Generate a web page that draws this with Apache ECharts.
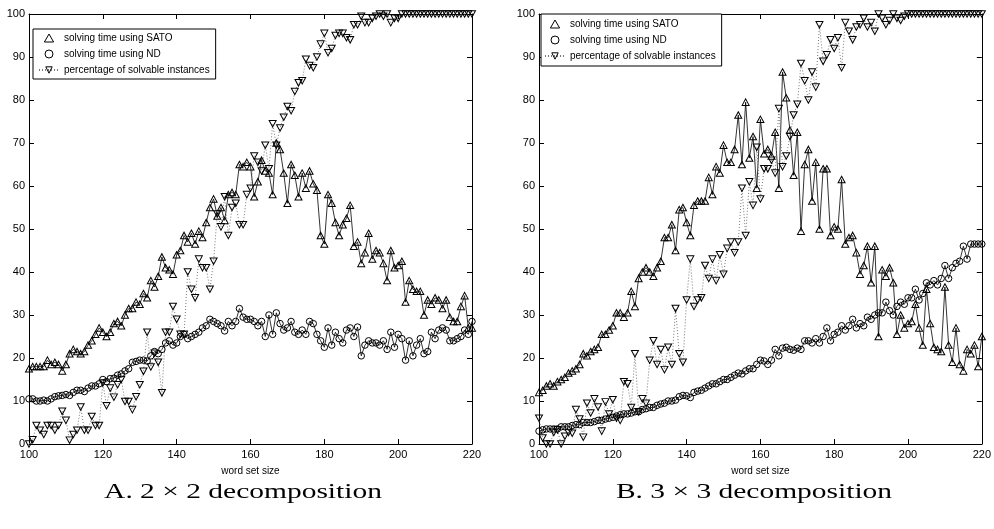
<!DOCTYPE html>
<html><head><meta charset="utf-8">
<script src="https://cdn.jsdelivr.net/npm/echarts@6/dist/echarts.min.js"></script>
<style>html,body{margin:0;padding:0;background:#fff}#c{width:994px;height:529px}</style>
</head><body><div id="c"></div>
<script>
// word set sizes (x positions)
const SIZES = [];
for (let s = 100; s <= 220; s++) SIZES.push(s);

const NAME_SATO = 'solving time using SATO';
const NAME_ND = 'solving time using ND';
const NAME_PCT = 'percentage of solvable instances';

// Panel A: 2 x 2 decomposition
const A_SATO = [
  17.5,18,18,18,18,19.5,18.5,19,18.5,17,
  18.5,21,22,21.5,21,21.5,23,24,25.5,27,
  26,25,26,28,28.5,27.5,30,31.5,31.5,33,
  32.5,35,34,38,36.5,39,43.5,41,40.5,39.5,
  44,45,48.5,47,49,46.5,49.5,48,51.5,55,
  57,53,55,52,58,58.5,58,65,64.5,65.5,
  64.5,57.5,61,66,63.5,63,58,70,68.5,63,
  56,65,62.5,57.5,63,59.5,63.5,60.5,59,48.5,
  46.5,58,56,51.5,48.5,51,52.5,55.5,46,47,
  42,44.5,49,43,45,44.5,42,38,45,41,
  41.5,42.5,33,38,36,35.5,35.5,30,33.5,32.5,
  34,33.5,31.5,33.5,29.5,28.5,28.5,32,34.5,27,
  27
];
const A_ND = [
  10.5,10.5,10,10,10.2,10,10.5,11,11.2,11.3,
  11.5,11.3,12,12.5,12.5,12.2,13,13.5,13.5,14,
  15,14.5,15.2,15.3,16,16.3,17,17.5,19,19.2,
  19.5,19.5,19.3,20.5,21.5,21,22,23.5,24,23,
  23.5,25,25.5,24.5,25,25.5,26,27,27.5,29,
  28.5,28,27.5,26.3,28.5,27.5,28.5,31.5,29.5,29,
  29,28.5,27.5,28.5,25,30,25.5,30.5,28,26.5,
  27,28.5,26,25.5,26.5,25.5,28.5,28,25.5,24,
  22.5,27,23,26,24.5,23.5,26.5,27,25,27.2,
  20.5,23,24,23.5,23.5,23,24,22,26,22.5,
  25.5,24.5,19.5,24,20.5,23,24.5,21,21.5,26,
  24.5,26.5,27,26.5,24,24,24.5,25,26.5,25.5,
  28.5
];
const A_PCT = [
  0,1,4.3,3.2,2.2,4.3,4.3,3.2,4.3,7.6,
  5.5,0.9,2.2,3.2,8.6,3.2,3.2,6.4,4.3,4.3,
  14.2,8.9,13,10.9,13.8,15,9.9,9.9,8,11,
  13.8,16.9,26,17.9,21.1,19,11.9,26,26,32,
  29,25.5,25.5,40,36,34,43,41,41,36,
  42.5,53.5,50.5,57.5,48.5,55,56,51,51,58,
  59.5,67,65.5,63.5,69.5,64,74.5,69.5,73.5,76,
  78.5,77.5,82,84,84.5,89.5,88,87.5,90,93,
  95.5,91,92,95,95.5,95.5,94.5,94,97.5,97.5,
  99.5,98,98,99,99.5,100,99.5,100,98,99,
  99,100,100,100,100,100,100,100,100,100,
  100,100,100,100,100,100,100,100,100,100,
  100
];

// Panel B: 3 x 3 decomposition
const B_SATO = [
  12,12.5,13.5,14,13.5,14.5,15,15.5,16.5,17,
  17.5,18.5,21,20.5,21.5,22,22.5,25.5,25.5,26.5,
  27.5,30.5,30.5,29.5,30.5,35.5,32,38.5,40,41,
  40,39,41,42.5,48,48,51,45,54.5,55,
  51.5,48.5,55.5,56.5,56.5,56.5,62,58,64.5,63,
  69.5,65.5,65.5,68.5,76.5,65,79.5,66.5,71.5,59.5,
  75.5,67.5,68.5,67,72.5,59.5,86.5,80.5,73,62.5,
  72.5,49.5,65,68.5,56.5,65.5,50,64,64,48.5,
  50.5,50,61.5,46.5,48,48.5,44.5,39.5,41.5,46,
  37.5,46,25,40.5,39,41,37.5,25.5,30,27,
  28,28.5,32.5,27,23,36,28,22.5,22,21.5,
  36.5,23,19,27,18.5,17,22,21,23,18,
  25
];
const B_ND = [
  3,3.3,3.5,3.5,3.5,3.5,4,4,4,4.3,
  4.5,4.5,5,5,5,5.2,5.5,5.5,5.8,6,
  6.2,6.5,6.8,7,7,7.2,7.5,7.5,8,8.2,
  8.5,8.5,9,9.3,9.5,10,10,10.2,11,11.3,
  11.2,10.8,12,12.3,12.5,13,13.5,14,14,14.5,
  15,15,15.5,16,16.5,16.3,17,17.5,17.5,18.5,
  19.5,19.3,18.5,19.5,22,20.5,22.3,22.5,22,21.8,
  22.3,22,24,24,23.5,24.5,23.5,25,27,24,
  25.5,26,27.5,26.5,27.5,29,27,28,27.5,29.5,
  29,30,30.5,30.5,33,31,30,32,33,32.5,
  34,34,36,33.5,35,37.5,37,38,37,38.5,
  41.5,38.5,41,42,42.5,46,43,46.5,46.5,46.5,
  46.5
];
const B_PCT = [
  6,1.4,0,0,2.7,3.3,0,1.8,2.7,2.5,
  8,5.8,1.6,9.5,7.2,10.5,8.6,3,9.8,7,
  10.3,6,5.5,14.5,14,8.5,21,7.5,10.5,9.5,
  19.5,24,18.5,22,17.3,22.5,18.5,31.5,21,19,
  33.5,43,32,33.5,34,41.5,38.5,43,38,44,
  39.5,45.5,47,44.5,47,59.5,48.5,61,55.5,69,
  57,64,64,66,63,78,64.5,67,71.5,76.5,
  79,88.5,84.5,80,86.5,83,97.5,89,90.5,94,
  92,94.5,87.5,98,96,94,97,97.5,99,97,
  98,96,100,99,97.5,98.5,100,99,98.5,99.5,
  100,100,100,100,100,100,100,100,100,100,
  100,100,100,100,100,100,100,100,100,100,
  100
];

const X_MIN = 100, X_MAX = 220, X_STEP = 20;
const Y_MIN = 0, Y_MAX = 100, Y_STEP = 10;
const X_TITLE = 'word set size';
const CAPTIONS = ['A. 2 \u00d7 2 decomposition', 'B. 3 \u00d7 3 decomposition'];

const FONT = '"Liberation Sans", Arial, Helvetica, sans-serif';
const DOWN = 'path://M0,0L10,0L5,8.66Z';
const UP = 'path://M5,0L10,8.66L0,8.66Z';

function pairs(v) { return v.map((y, i) => [SIZES[i], y]); }

const grids = [
  { left: 29, right: 522, top: 14, bottom: 85 },
  { left: 539, right: 10, top: 14, bottom: 85 }
];

const xAxes = [], yAxes = [];
grids.forEach((g, gi) => {
  const common = {
    gridIndex: gi, type: 'value', min: X_MIN, max: X_MAX, interval: X_STEP,
    axisLine: { show: true, onZero: false, lineStyle: { color: '#000', width: 1 } },
    axisTick: { show: true, inside: true, length: 5, lineStyle: { color: '#000', width: 1 } },
    splitLine: { show: false }
  };
  xAxes.push(Object.assign({}, common, {
    position: 'bottom',
    axisLabel: { color: '#000', fontFamily: FONT, fontSize: 11, margin: 5 },
    name: X_TITLE, nameLocation: 'middle', nameGap: 22,
    nameTextStyle: { color: '#000', fontFamily: FONT, fontSize: 10 }
  }));
  xAxes.push(Object.assign({}, common, { position: 'top', axisLabel: { show: false } }));
  const ycommon = {
    gridIndex: gi, type: 'value', min: Y_MIN, max: Y_MAX, interval: Y_STEP,
    axisLine: { show: true, onZero: false, lineStyle: { color: '#000', width: 1 } },
    axisTick: { show: true, inside: true, length: 5, lineStyle: { color: '#000', width: 1 } },
    splitLine: { show: false }
  };
  yAxes.push(Object.assign({}, ycommon, {
    position: 'left',
    axisLabel: { color: '#000', fontFamily: FONT, fontSize: 11, margin: 4 }
  }));
  yAxes.push(Object.assign({}, ycommon, { position: 'right', axisLabel: { show: false } }));
});

const hollow = { color: 'rgba(0,0,0,0)', borderColor: '#000', borderWidth: 1 };
function mk(name, data, gi, symbol, size, lineStyle) {
  return {
    type: 'line', name: name, xAxisIndex: gi * 2, yAxisIndex: gi * 2,
    data: pairs(data), symbol: symbol, symbolSize: size, showSymbol: true,
    showAllSymbol: true, clip: false,
    itemStyle: hollow, lineStyle: lineStyle,
    emphasis: { disabled: true }, animation: false, z: 3
  };
}
const solid = { color: '#000', width: 0.8, type: 'solid' };
const dotted = { color: '#777', width: 1, type: [1, 2] };

const series = [
  mk(NAME_SATO, A_SATO, 0, 'triangle', [7, 6.5], solid),
  mk(NAME_ND, A_ND, 0, 'circle', 6.5, solid),
  mk(NAME_PCT, A_PCT, 0, DOWN, [7, 6.5], dotted),
  mk(NAME_SATO, B_SATO, 1, 'triangle', [7, 6.5], solid),
  mk(NAME_ND, B_ND, 1, 'circle', 6.5, solid),
  mk(NAME_PCT, B_PCT, 1, DOWN, [7, 6.5], dotted)
];

function legend(left, top, pad) {
  return {
    left: left, top: top, orient: 'vertical', padding: pad, itemGap: 6,
    itemWidth: 20, itemHeight: 8, borderColor: '#000', borderWidth: 1,
    backgroundColor: '#fff', selectedMode: false, symbolKeepAspect: true,
    textStyle: { color: '#000', fontFamily: FONT, fontSize: 10 },
    data: [
      { name: NAME_SATO, icon: UP, itemStyle: hollow },
      { name: NAME_ND, icon: 'path://M10,5A5,5,0,1,1,0,5A5,5,0,1,1,10,5Z', itemStyle: hollow },
      { name: NAME_PCT, itemStyle: hollow }
    ]
  };
}

const chart = echarts.init(document.getElementById('c'));
chart.setOption({
  animation: false,
  backgroundColor: '#fff',
  grid: grids,
  xAxis: xAxes,
  yAxis: yAxes,
  legend: [legend(33, 29, [4, 6, 4, 5]), legend(541, 14, [5, 6, 5, 3])],
  series: series,
  graphic: [
    { type: 'text', x: 243, y: 492, scaleX: 1.34, z: 10,
      style: { text: CAPTIONS[0], font: '22px "Liberation Serif", "Times New Roman", serif', fill: '#000',
               textAlign: 'center', textVerticalAlign: 'middle', align: 'center', verticalAlign: 'middle' } },
    { type: 'text', x: 754, y: 492, scaleX: 1.34, z: 10,
      style: { text: CAPTIONS[1], font: '22px "Liberation Serif", "Times New Roman", serif', fill: '#000',
               textAlign: 'center', textVerticalAlign: 'middle', align: 'center', verticalAlign: 'middle' } }
  ]
});
</script></body></html>
